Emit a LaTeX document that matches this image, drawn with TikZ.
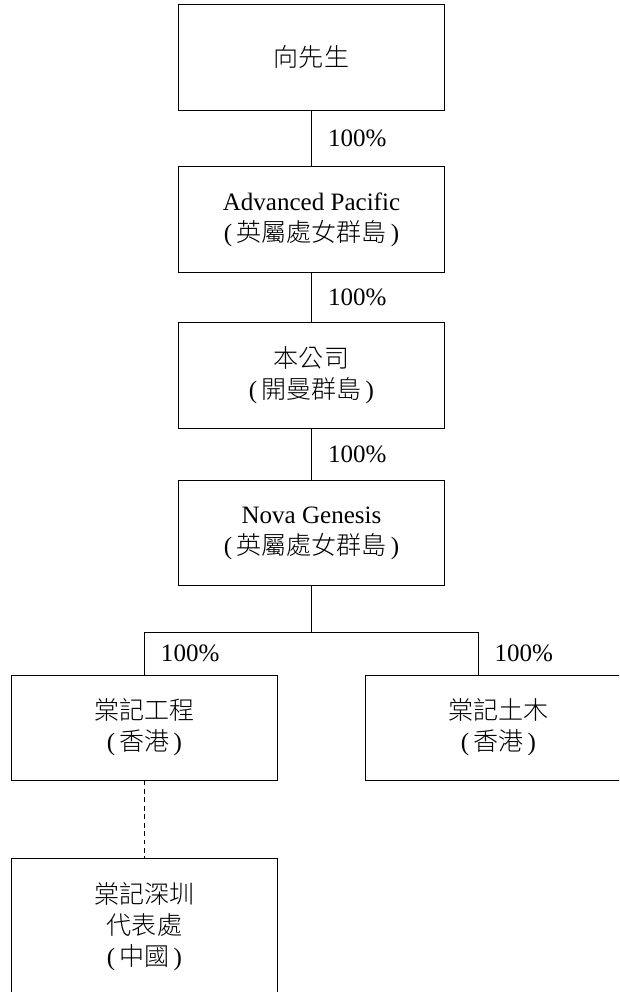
\documentclass[tikz,border=0pt]{standalone}
\usepackage{fontspec}
\setmainfont{Liberation Serif}
\newfontfamily\cjk{Noto Sans CJK TC Light}
\begin{document}
\begin{tikzpicture}[x=0.025cm,y=-0.025cm,
		entity/.style={draw,line width=0.7pt,minimum width=6.65cm,minimum height=2.625cm,align=center,inner sep=0pt,font=\fontsize{17.8}{22}\selectfont},
		link/.style={line width=0.7pt},
		pct/.style={right,xshift=0.4cm,inner sep=0pt,font=\fontsize{17.8}{22}\selectfont}]
			\clip (0,0) rectangle (619,992);
			\node[entity] (xiang) at (311.5,57.5) {{\cjk 向先生}};
			\node[entity] (advanced) at (311.5,219.5) {Advanced Pacific\\(\,{\cjk 英屬處女群島}\,)};
			\node[entity] (company) at (311.5,375.5) {{\cjk 本公司}\\(\,{\cjk 開曼群島}\,)};
			\node[entity] (nova) at (311.5,533) {Nova Genesis\\(\,{\cjk 英屬處女群島}\,)};
			\node[entity] (gongcheng) at (144.5,727.5) {{\cjk 棠記工程}\\(\,{\cjk 香港}\,)};
			\node[entity] (tumu) at (498.5,727.5) {{\cjk 棠記土木}\\(\,{\cjk 香港}\,)};
			\node[entity,minimum height=3.45cm] (shenzhen) at (144.5,927) {{\cjk 棠記深圳}\\{\cjk 代表處}\\(\,{\cjk 中國}\,)};
			\draw[link] (xiang) -- (advanced) node[midway,pct]{100\%};
			\draw[link] (advanced) -- (company) node[midway,pct]{100\%};
			\draw[link] (company) -- (nova) node[midway,pct]{100\%};
			\coordinate (fork) at (311.5,632);
			\coordinate (forkl) at (144.5,632);
			\coordinate (forkr) at (478,632);
			\draw[link] (nova) -- (fork);
			\draw[link] (forkl) -- (forkr);
			\draw[link] (forkl) -- (gongcheng) node[midway,pct]{100\%};
			\draw[link] (forkr) -- (forkr |- tumu.north) node[midway,pct]{100\%};
			\draw[link,dash pattern=on 3.5pt off 2.5pt] (gongcheng) -- (shenzhen);
		\end{tikzpicture}
\end{document}
